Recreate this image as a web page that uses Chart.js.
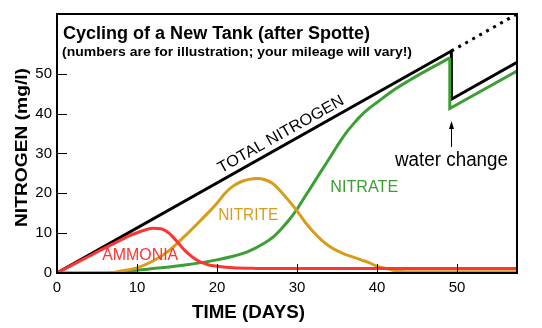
<!DOCTYPE html>
<html><head><meta charset="utf-8">
<script src="https://cdn.jsdelivr.net/npm/chart.js@4.4.0/dist/chart.umd.min.js"></script>
<style>html,body{margin:0;padding:0;background:#fff;overflow:hidden}#wrap{width:542px;height:328px;position:relative}</style>
</head><body><div id="wrap"><canvas id="c" width="542" height="328"></canvas></div>
<script>
// ---- data (days, mg/l) ----
const xTicks = [0, 10, 20, 30, 40, 50];
const yTicks = [0, 10, 20, 30, 40, 50];

const totalDays = [0, 49.3, 49.3, 57.5];
const totalValues = [0, 55.7, 43.6, 52.9];
const projectedDays = [49.3, 57.5];
const projectedValues = [55.7, 65];

const ammoniaDays = [0, 2, 4, 6, 8, 9, 10, 11, 12, 13, 14, 14.5, 15, 16, 17, 18, 19, 20, 22, 25, 30, 57.5];
const ammoniaValues = [0, 2.1, 4.2, 6.3, 8.3, 9.3, 10.1, 10.8, 11.2, 11.1, 10.0, 9.0, 7.9, 5.6, 3.9, 2.7, 2.0, 1.7, 1.3, 1.15, 1.1, 1.1];

const nitriteDays = [0, 6.5, 8, 10, 12, 14, 16, 18, 20, 21, 22, 23, 24, 25, 26, 27, 28, 29, 30, 31, 32, 33, 34, 35, 36, 37, 38, 39, 40, 41, 42, 43, 44, 57.5];
const nitriteValues = [0, 0, 0.5, 1.3, 3.0, 5.6, 9.3, 13.3, 17.5, 20.0, 21.8, 22.9, 23.5, 23.7, 23.4, 22.4, 20.4, 18.1, 15.6, 12.8, 10.4, 8.4, 6.8, 5.6, 4.7, 4.0, 3.3, 2.6, 1.7, 1.2, 0.7, 0.4, 0.3, 0.3];

const nitrateDays = [0, 6, 8, 10, 12, 14, 16, 18, 20, 22, 24, 26, 27, 28, 29, 30, 31, 32, 33, 34, 35, 36, 37, 38, 39, 40, 42, 44, 46, 48, 49.1];
const nitrateValues = [0, 0, 0.2, 0.7, 1.1, 1.5, 2.0, 2.6, 3.3, 4.2, 5.5, 7.6, 9.0, 11.0, 13.3, 16.0, 19.2, 22.3, 25.5, 28.6, 31.8, 34.8, 37.3, 39.5, 41.3, 42.8, 45.8, 48.3, 50.6, 52.8, 54.0];
const nitrateAfterDays = [49.1, 49.1, 57.5];
const nitrateAfterValues = [54.0, 41.3, 50.7];

const zip = (xs, ys) => xs.map((x, i) => ({x, y: ys[i]}));

const FONT = '"Liberation Sans", Arial, Helvetica, sans-serif';
const BLACK = '#000000', RED = '#ff3333', ORANGE = '#d89c1c', GREEN = '#3d9e34';

function txt(ctx, text, x, y, o) {
  ctx.save();
  ctx.translate(x, y);
  if (o.angle) ctx.rotate(o.angle);
  ctx.font = (o.weight || 'normal') + ' ' + o.size + 'px ' + FONT;
  ctx.fillStyle = o.color || BLACK;
  ctx.textAlign = o.align || 'center';
  ctx.textBaseline = o.baseline || 'middle';
  if (o.width) { const w = ctx.measureText(text).width; ctx.scale(o.width / w, 1); }
  ctx.fillText(text, 0, 0);
  ctx.restore();
}

const decor = {
  id: 'decor',
  afterDraw(chart) {
    const {ctx, chartArea: a, scales: {x, y}} = chart;
    ctx.save();
    // frame
    ctx.strokeStyle = BLACK; ctx.lineWidth = 2;
    ctx.strokeRect(a.left, a.top, a.right - a.left, a.bottom - a.top);
    // inner tick marks
    ctx.lineWidth = 1;
    xTicks.forEach(v => { if (v > 0) { const px = Math.round(x.getPixelForValue(v)) + 0.5; ctx.beginPath(); ctx.moveTo(px, a.bottom); ctx.lineTo(px, a.bottom - 9); ctx.stroke(); } });
    yTicks.forEach(v => { if (v > 0) { const py = Math.round(y.getPixelForValue(v)) + 0.5; ctx.beginPath(); ctx.moveTo(a.left, py); ctx.lineTo(a.left + 10, py); ctx.stroke(); } });
    // titles
    txt(ctx, 'Cycling of a New Tank (after Spotte)', 63, 39, {size: 18, weight: 'bold', align: 'left', baseline: 'alphabetic', width: 307});
    txt(ctx, '(numbers are for illustration; your mileage will vary!)', 62, 55.5, {size: 13, weight: 'bold', align: 'left', baseline: 'alphabetic', width: 350});
    txt(ctx, 'NITROGEN (mg/l)', 27, 147.5, {size: 17, weight: 'bold', angle: -Math.PI / 2, baseline: 'alphabetic', width: 159});
    txt(ctx, 'TIME (DAYS)', 248.5, 317.5, {size: 18, weight: 'bold', baseline: 'alphabetic', width: 113});
    // series labels
    const ang = Math.atan2(y.getPixelForValue(totalValues[1]) - y.getPixelForValue(0), x.getPixelForValue(totalDays[1]) - x.getPixelForValue(0));
    txt(ctx, 'TOTAL NITROGEN', x.getPixelForValue(28), y.getPixelForValue(34.75), {size: 16, angle: ang, width: 142});
    txt(ctx, 'AMMONIA', x.getPixelForValue(10.4), y.getPixelForValue(4.25), {size: 16, color: RED, width: 76});
    txt(ctx, 'NITRITE', x.getPixelForValue(23.9), y.getPixelForValue(14.5), {size: 16, color: ORANGE, width: 60});
    txt(ctx, 'NITRATE', x.getPixelForValue(38.4), y.getPixelForValue(21.4), {size: 16, color: GREEN, width: 68});
    txt(ctx, 'water change', 451.5, 165.5, {size: 20, baseline: 'alphabetic', width: 113});
    // arrow
    const ax = Math.round(x.getPixelForValue(49.2)) + 0.5;
    ctx.strokeStyle = BLACK; ctx.fillStyle = BLACK; ctx.lineWidth = 1;
    ctx.beginPath(); ctx.moveTo(ax, 147); ctx.lineTo(ax, 126); ctx.stroke();
    ctx.beginPath(); ctx.moveTo(ax, 121); ctx.lineTo(ax - 2.5, 129); ctx.lineTo(ax + 2.5, 129); ctx.closePath(); ctx.fill();
    ctx.restore();
  }
};

const line = (data, color, extra) => Object.assign({data, borderColor: color, borderWidth: 3, pointRadius: 0, fill: false, tension: 0}, extra || {});

new Chart(document.getElementById('c'), {
  type: 'line',
  data: {
    datasets: [
      line(zip(ammoniaDays, ammoniaValues), RED, {cubicInterpolationMode: 'monotone', order: 0}),
      line(zip(nitriteDays, nitriteValues), ORANGE, {cubicInterpolationMode: 'monotone', order: 1}),
      line(zip(nitrateDays, nitrateValues), GREEN, {cubicInterpolationMode: 'monotone', order: 2}),
      line(zip(nitrateAfterDays, nitrateAfterValues), GREEN, {order: 2, borderJoinStyle: 'miter'}),
      line(zip(totalDays, totalValues), BLACK, {order: 3, borderJoinStyle: 'miter'}),
      line(zip(projectedDays, projectedValues), BLACK, {order: 3, borderDash: [3, 5]})
    ]
  },
  options: {
    responsive: false, animation: false, devicePixelRatio: 1,
    layout: {padding: {top: 13, right: 25, left: 0, bottom: 0}},
    plugins: {legend: {display: false}, tooltip: {enabled: false}, title: {display: false}},
    scales: {
      x: {
        type: 'linear', min: 0, max: 57.5,
        afterFit: s => { s.height = 55; },
        afterBuildTicks: s => { s.ticks = xTicks.map(v => ({value: v})); },
        grid: {display: false, drawTicks: false}, border: {display: false},
        ticks: {padding: 6, color: BLACK, font: {family: FONT, size: 15}, maxRotation: 0}
      },
      y: {
        type: 'linear', min: 0, max: 65,
        afterFit: s => { s.width = 57; },
        afterBuildTicks: s => { s.ticks = yTicks.map(v => ({value: v})); },
        grid: {display: false, drawTicks: false}, border: {display: false},
        ticks: {padding: 5, color: BLACK, font: {family: FONT, size: 15}}
      }
    }
  },
  plugins: [decor]
});
</script></body></html>
